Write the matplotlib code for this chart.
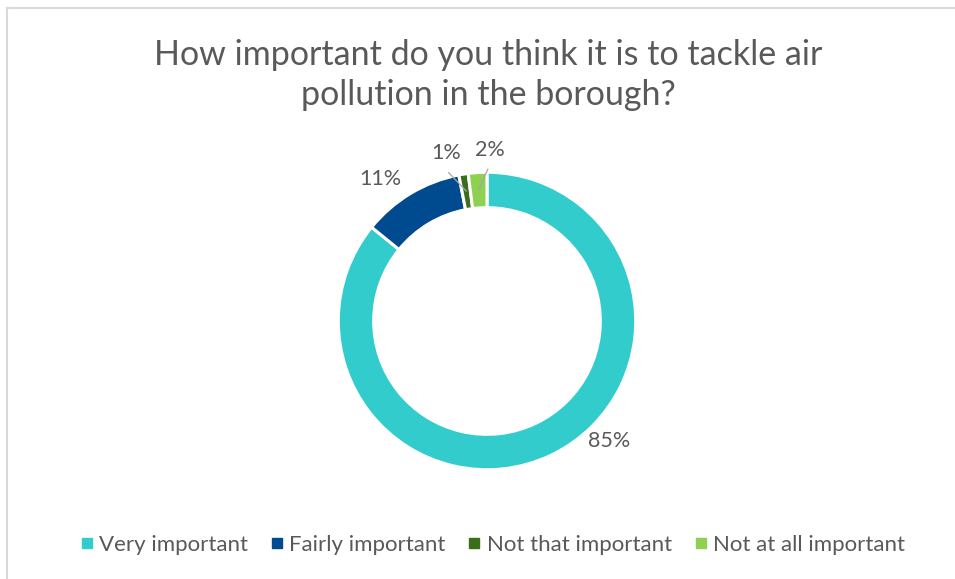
import numpy as np
import matplotlib
matplotlib.use("Agg")
import matplotlib.pyplot as plt
from matplotlib.lines import Line2D

plt.rcParams['font.family'] = ['Lato', 'DejaVu Sans']

# Survey responses
categories = ["Very important", "Fairly important", "Not that important", "Not at all important"]
values = [85, 11, 1, 2]
labels = ["85%", "11%", "1%", "2%"]
colors = ["#33CCCC", "#004A8F", "#3B6E1A", "#8ED04F"]

title = "How important do you think it is to tackle air\npollution in the borough?"
text_color = "#595959"

W, H = 955, 579
fig = plt.figure(figsize=(W / 100, H / 100), dpi=100)
fig.patch.set_facecolor("white")

# Donut axes, centred at (487, 321) px with outer radius 143 px
cx, cy, R = 487, 321, 143
lim = 1.3
size = 2 * lim * R
ax = fig.add_axes([(cx - size / 2) / W, (H - cy - size / 2) / H, size / W, size / H])
ax.set_xlim(-lim, lim)
ax.set_ylim(-lim, lim)
ax.set_aspect("equal")
ax.axis("off")

wedges, _ = ax.pie(values, colors=colors, startangle=90, counterclock=False,
                   radius=1.0,
                   wedgeprops=dict(width=0.238, edgecolor="white", linewidth=2.2))

# Label placement (angle in degrees, radius) and optional leader lines
label_pos = [(-44.5, 1.155), (126.9, 1.19), (103.6, 1.16), (89.0, 1.15)]
leader = [False, False, True, True]

for w, lab, (ang, r), ld in zip(wedges, labels, label_pos, leader):
    a = np.deg2rad(ang)
    x, y = r * np.cos(a), r * np.sin(a)
    ax.text(x, y, lab, ha="center", va="center", fontsize=15.5, color=text_color)
    if ld:
        mid = np.deg2rad((w.theta1 + w.theta2) / 2)
        ex, ey = 0.885 * np.cos(mid), 0.885 * np.sin(mid)
        sx, sy = x + 0.015 * np.sign(ex - x), y - 0.13
        ax.plot([sx, ex], [sy, ey], color="#A6A6A6", linewidth=0.9)

# Title
fig.text(488 / W, 1 - 75 / H, title, ha="center", va="center", fontsize=24.5,
         color=text_color, linespacing=1.3)

# Legend
handles = [Line2D([0], [0], marker="s", linestyle="none", markersize=7,
                  markerfacecolor=c, markeredgecolor=c) for c in colors]
fig.legend(handles, categories, loc="center", bbox_to_anchor=(492 / W, 1 - 545 / H),
           ncol=4, frameon=False, fontsize=16, labelcolor=text_color,
           handletextpad=0.2, columnspacing=0.95, handlelength=0.7)

# Chart area edge lines (left and top)
fig.add_artist(Line2D([7 / W, 7 / W], [0, 1 - 7.5 / H], transform=fig.transFigure,
                      color="#D9D9D9", linewidth=1.5))
fig.add_artist(Line2D([7 / W, 1], [1 - 7.5 / H, 1 - 7.5 / H], transform=fig.transFigure,
                      color="#D9D9D9", linewidth=1.5))

fig.savefig("out.png", dpi=100, facecolor="white")
